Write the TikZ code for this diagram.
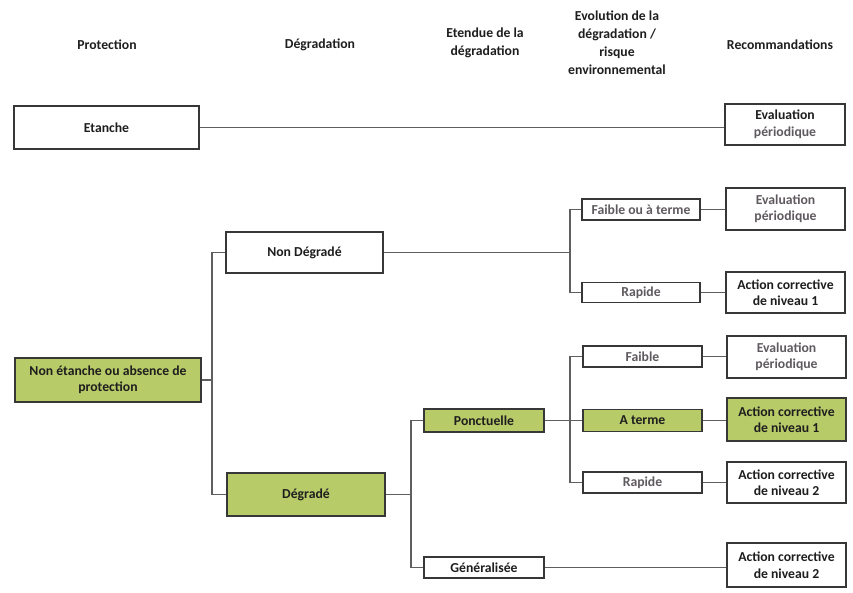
\documentclass[tikz,border=0pt]{standalone}
\usepackage{fontspec}
\setmainfont{Carlito}
\definecolor{boxline}{RGB}{55,55,55}
\definecolor{connc}{RGB}{95,95,95}
\definecolor{lgreen}{RGB}{183,203,104}
\definecolor{txt}{RGB}{30,30,30}
\definecolor{txtgrey}{RGB}{95,90,95}
\begin{document}
\begin{tikzpicture}[x=1pt,y=-1pt,
  box/.style={draw=boxline, line width=1.2pt, fill=white, inner sep=0pt, align=center,
    text=txt, font=\bfseries\fontsize{13.7}{16.5}\selectfont},
  gbox/.style={box, fill=lgreen},
  conn/.style={draw=connc, line width=1.4pt},
  hdr/.style={align=center, text=txt, font=\bfseries\fontsize{13.7}{18}\selectfont}]
\useasboundingbox (0,0) rectangle (853,592);
\fill[white] (0,0) rectangle (853,592);

% headers
\node[hdr] (h1) at (107,45) {Protection};
\node[hdr] (h2) at (320,45) {Dégradation};
\node[hdr] (h3) at (485,43) {Etendue de la\\dégradation};
\node[hdr] (h4) at (617,43) {Evolution de la\\dégradation /\\risque\\environnemental};
\node[hdr] (h5) at (780,45) {Recommandations};

% boxes
\node[box, minimum width=185pt, minimum height=43pt] (etanche) at (106.5,127.5) {Etanche};
\node[box, minimum width=120pt, minimum height=41pt] (eval0) at (785,124.5) {Evaluation\\\textcolor{txtgrey}{périodique}};

\node[gbox, minimum width=186pt, minimum height=44pt] (nonet) at (108,380) {Non étanche ou absence de\\protection};
\node[box, minimum width=157pt, minimum height=41pt] (nondeg) at (304.5,252.5) {Non Dégradé};
\node[gbox, minimum width=158pt, minimum height=43pt] (degr) at (306,494.5) {Dégradé};

\node[box, minimum width=118pt, minimum height=21pt, text=txtgrey] (fot) at (641,209.5) {Faible ou à terme};
\node[box, minimum width=118pt, minimum height=20pt, text=txtgrey] (rap1) at (641,292.5) {Rapide};
\node[box, minimum width=119pt, minimum height=42pt, text=txtgrey] (eval1) at (785.5,209) {Evaluation\\périodique};
\node[box, minimum width=119pt, minimum height=41pt] (ac1a) at (785.5,292.5) {Action corrective\\de niveau 1};

\node[gbox, minimum width=120pt, minimum height=23pt] (ponct) at (484,420.5) {Ponctuelle};
\node[box, minimum width=120pt, minimum height=21pt] (gen) at (484,567.5) {Généralisée};

\node[box, minimum width=119pt, minimum height=21pt, text=txtgrey] (faible) at (642.5,356.5) {Faible};
\node[gbox, minimum width=119pt, minimum height=22pt] (aterme) at (642.5,420.5) {A terme};
\node[box, minimum width=119pt, minimum height=21pt, text=txtgrey] (rap2) at (642.5,482.5) {Rapide};

\node[box, minimum width=119pt, minimum height=42pt, text=txtgrey] (eval2) at (786.5,357) {Evaluation\\périodique};
\node[gbox, minimum width=119pt, minimum height=43pt] (ac1b) at (786.5,419.5) {Action corrective\\de niveau 1};
\node[box, minimum width=119pt, minimum height=41pt] (ac2a) at (786.5,482.5) {Action corrective\\de niveau 2};
\node[box, minimum width=119pt, minimum height=44pt] (ac2b) at (786.5,565) {Action corrective\\de niveau 2};

% junctions
\coordinate (j1) at (212,380);
\coordinate (j2) at (570,252.5);
\coordinate (j3) at (411,494.5);
\coordinate (j4) at (570,420.5);

% connectors
\draw[conn] (etanche.east) -- (etanche.east -| eval0.west);
\draw[conn] (nonet.east) -- (j1);
\draw[conn] (nondeg.west) -| (j1) |- (degr.west);
\draw[conn] (nondeg.east) -- (j2);
\draw[conn] (fot.west) -| (j2) |- (rap1.west);
\draw[conn] (fot.east) -- (fot.east -| eval1.west);
\draw[conn] (rap1.east) -- (rap1.east -| ac1a.west);
\draw[conn] (degr.east) -- (j3);
\draw[conn] (ponct.west) -| (j3) |- (gen.west);
\draw[conn] (ponct.east) -- (aterme.west);
\draw[conn] (faible.west) -| (j4) |- (rap2.west);
\draw[conn] (faible.east) -- (faible.east -| eval2.west);
\draw[conn] (aterme.east) -- (aterme.east -| ac1b.west);
\draw[conn] (rap2.east) -- (rap2.east -| ac2a.west);
\draw[conn] (gen.east) -- (gen.east -| ac2b.west);
\end{tikzpicture}
\end{document}
